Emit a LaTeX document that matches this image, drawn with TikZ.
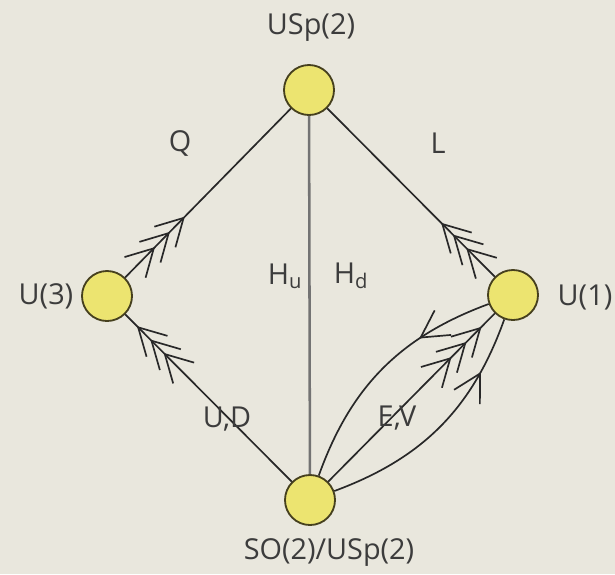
\documentclass[tikz,border=0pt]{standalone}
\usepackage{fontspec}
\setmainfont{Open Sans}
\usetikzlibrary{arrows.meta,decorations.markings}

\definecolor{paper}{RGB}{233,231,221}
\definecolor{knot}{RGB}{236,228,112}
\definecolor{rim}{RGB}{70,64,30}
\definecolor{ink}{RGB}{40,40,40}
\definecolor{txt}{RGB}{60,60,60}

\newcommand*{\wide}{615}
\newcommand*{\high}{574}

\tikzset{
	chev/.tip={Straight Barb[length=19pt,width=21pt]},
}

\begin{document}
\begin{tikzpicture}
[
	x=0.025cm,
	y=-0.025cm,
	gauge/.style={circle,draw=rim,fill=knot,line width=1.3pt,minimum size=1.25cm,inner sep=0pt},
	gname/.style={text=txt,inner sep=0pt,font=\fontsize{20.5}{24}\selectfont},
	field/.style={ink,line width=1.2pt},
	stem/.style={black!55,line width=1.8pt},
	chevone/.style={postaction={decorate},decoration={markings,
		mark=at position #1 with {\arrow{chev}}}},
	chevthree/.style n args={3}{postaction={decorate},decoration={markings,
		mark=at position #1 with {\arrow{chev}},
		mark=at position #2 with {\arrow{chev}},
		mark=at position #3 with {\arrow{chev}}}}
]

	% background
	\fill[paper] (0,0) rectangle (\wide,\high);

	% gauge groups
	\node[gauge] at (309,90) (usp) {};
	\node[gauge] at (107,296) (u3) {};
	\node[gauge] at (513,295) (u1) {};
	\node[gauge] at (310,500) (so) {};

	% group names
	\node[gname] at (311,28) (usplab) {USp(2)};
	\node[gname] at (46,296) (u3lab) {U(3)};
	\node[gname] at (585,297) (u1lab) {U(1)};
	\node[gname] at (329,552) (solab) {SO(2)/USp(2)};

	% fields
	\draw[stem] (usp) -- (so);
	\draw[field,chevthree={0.18}{0.27}{0.36}] (u3) -- (usp);
	\draw[field,chevthree={0.17}{0.25}{0.32}] (u1) -- (usp);
	\draw[field,chevthree={0.77}{0.85}{0.93}] (so) -- (u3);
	\draw[field,chevthree={0.74}{0.83}{0.92}] (so) -- (u1);
	\draw[field,chevone=0.31] (u1) to[bend right=25] (so);
	\draw[field,chevone=0.77] (so) to[bend right=25] (u1);

	% field names
	\node[gname] at (180,143) (qlab) {Q};
	\node[gname] at (438,143) (llab) {L};
	\node[gname] at (285,276) (hulab) {H\textsubscript{u}};
	\node[gname] at (351,276) (hdlab) {H\textsubscript{d}};
	\node[gname] at (227,419) (udlab) {U,D};
	\node[gname] at (397,418) (evlab) {E,V};

\end{tikzpicture}
\end{document}
